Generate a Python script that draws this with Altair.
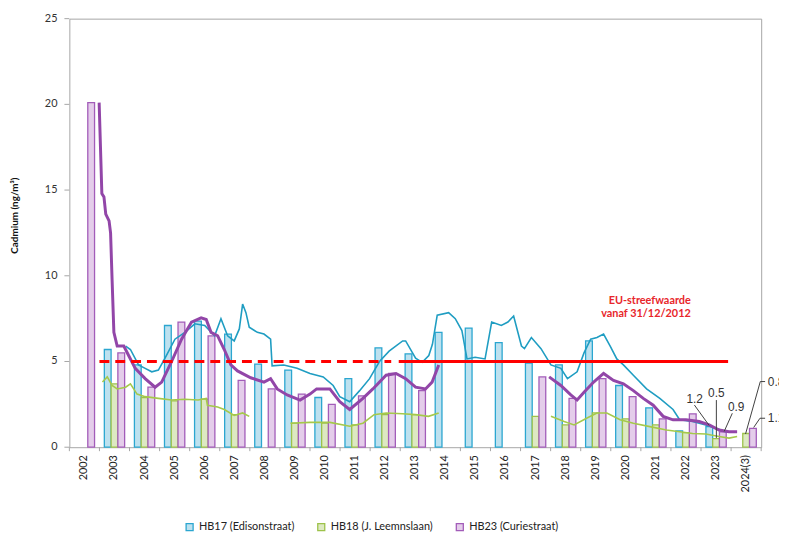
import altair as alt
import pandas as pd

years = ["2002", "2003", "2004", "2005", "2006", "2007", "2008", "2009", "2010", "2011",
         "2012", "2013", "2014", "2015", "2016", "2017", "2018", "2019", "2020", "2021",
         "2022", "2023", "2024(3)"]
series = ["HB17 (Edisonstraat)", "HB18 (J. Leemnslaan)", "HB23 (Curiestraat)"]
y_ticks = [0, 5, 10, 15, 20, 25]
y_title = "Cadmium  (ng/m³)"

# yearly averages (bars)
hb17_bars = [None, 5.7, 4.8, 7.1, 7.35, 6.6, 4.85, 4.5, 2.9, 4.0, 5.8, 5.45, 6.7, 6.95, 6.1,
             4.9, 4.8, 6.2, 3.6, 2.3, 0.95, 1.2, None]
hb18_bars = [None, 3.7, 2.9, 2.7, 2.8, 1.9, None, 1.4, 1.4, 1.3, 1.9, 1.9, None, None, None,
             1.8, 1.3, 2.0, 1.65, 1.3, 0.85, 0.5, 0.8]
hb23_bars = [20.1, 5.5, 3.5, 7.3, 6.5, 3.9, 3.4, 3.1, 2.5, 3.0, 4.3, 3.3, None, None, None,
             4.1, 2.85, 4.0, 2.95, 1.65, 1.95, 0.9, 1.1]

# running averages (lines); position in category units (0 = left edge of 2002)
hb17_pos = [1.87, 2.03, 2.30, 2.52, 2.74, 2.96, 3.18, 3.51, 3.84, 4.17, 4.50, 4.83, 5.04, 5.26,
            5.48, 5.65, 5.76, 5.87, 5.98, 6.25, 6.47, 6.69, 6.74, 7.13, 7.57, 8.00, 8.44, 8.77,
            8.99, 9.32, 9.65, 9.98, 10.31, 10.63, 11.08, 11.18, 11.51, 11.73, 11.95, 12.07,
            12.23, 12.61, 12.83, 13.05, 13.22, 13.49, 13.82, 14.04, 14.36, 14.58, 14.77, 15.03,
            15.13, 15.36, 15.68, 16.01, 16.34, 16.56, 16.88, 17.11, 17.33, 17.54, 17.76, 17.98,
            18.20, 18.42, 18.75, 19.19, 19.63, 20.07, 20.29, 20.72, 21.16, 21.49, 21.82, 22.15]
hb17_line = [5.9, 5.7, 4.8, 4.6, 4.4, 4.5, 5.2, 6.3, 6.7, 7.2, 7.1, 6.5, 7.5, 6.5, 6.2, 6.9,
             8.35, 7.85, 7.0, 6.7, 6.6, 6.3, 4.75, 4.8, 4.6, 4.3, 4.1, 3.6, 2.95, 2.65, 3.3,
             4.0, 5.0, 5.6, 6.2, 6.2, 5.2, 4.95, 5.35, 6.0, 7.7, 7.85, 7.5, 6.8, 5.15, 5.25,
             5.15, 7.3, 7.1, 7.3, 7.65, 5.9, 5.75, 6.4, 5.75, 4.8, 4.6, 4.0, 4.4, 5.5, 6.3,
             6.4, 6.6, 5.9, 5.15, 4.8, 4.2, 3.4, 2.85, 2.2, 1.6, 1.5, 1.3, 1.1, 0.9, 0.88]

hb18_pos = [[1.10, 1.26, 1.42, 1.59, 1.87, 2.03, 2.25, 2.52, 2.96, 3.40, 3.84, 4.28, 4.55, 4.59,
             4.93, 5.15, 5.48, 5.76, 5.98],
            [7.35, 8.00, 8.66, 9.32, 9.76, 10.13, 10.53, 11.08, 11.51, 11.94, 12.28],
            [16.01, 16.45, 16.78, 17.21, 17.54, 17.87, 18.31, 18.75, 19.30, 19.85, 20.29,
             20.72, 21.16, 21.60, 21.93, 22.20]]
hb18_line = [[3.8, 4.1, 3.6, 3.4, 3.5, 3.7, 3.1, 2.95, 2.85, 2.75, 2.8, 2.75, 2.85, 2.45, 2.35,
              2.2, 1.85, 2.0, 1.8],
             [1.4, 1.45, 1.45, 1.22, 1.4, 1.9, 2.0, 1.95, 1.9, 1.8, 2.0],
             [1.8, 1.5, 1.3, 1.7, 2.0, 2.0, 1.6, 1.4, 1.2, 1.0, 0.9, 0.8, 0.77, 0.63, 0.53, 0.63]]

hb23_pos = [[0.99, 1.08, 1.15, 1.21, 1.32, 1.37, 1.42, 1.48, 1.59, 1.81, 1.97, 2.19, 2.52, 2.85,
             3.07, 3.40, 3.73, 4.06, 4.38, 4.55, 4.71, 4.93, 5.15, 5.37, 5.59, 6.03, 6.47,
             6.69, 6.91, 7.24, 7.67, 8.00, 8.22, 8.66, 8.99, 9.32, 9.76, 10.09, 10.53, 10.86,
             11.18, 11.51, 11.84, 12.06, 12.28],
            [15.95, 16.34, 16.67, 16.88, 17.11, 17.43, 17.76, 18.09, 18.42, 18.75, 19.08,
             19.41, 19.74, 20.07, 20.50, 20.94, 21.27, 21.60, 21.93, 22.20]]
hb23_line = [[20.1, 14.8, 14.6, 13.6, 13.2, 12.5, 9.8, 6.7, 5.9, 5.9, 5.35, 4.6, 4.0, 3.5, 3.8,
              5.0, 6.3, 7.3, 7.55, 7.45, 6.7, 6.5, 5.7, 4.8, 4.45, 4.05, 3.8, 4.0, 3.4, 3.05,
              2.75, 3.1, 3.4, 3.4, 2.65, 2.2, 2.85, 3.4, 4.2, 4.3, 4.0, 3.5, 3.4, 3.8, 4.8],
             [4.1, 3.6, 3.05, 2.75, 3.2, 3.8, 4.3, 3.9, 3.7, 3.3, 2.85, 2.45, 1.8, 1.6, 1.6,
              1.5, 1.3, 1.0, 0.9, 0.9]]

# EU target value line
eu_value = 5
eu_dashed = [1.0, 10.7]
eu_solid = [10.95, 21.9]
eu_text = ["EU-streefwaarde", "vanaf 31/12/2012"]
eu_text_pos = [20.66, 20.66]
eu_text_val = [8.5, 7.75]

# annotations
ann_mid_text = ["1.2", "0.5", "0.9"]
ann_mid_pos = [20.79, 21.51, 22.17]
ann_mid_val = [2.79, 3.14, 2.33]
ann_right_text = ["0.8", "1.1"]
ann_right_pos = [23.22, 23.22]
ann_right_val = [3.83, 1.69]
lead_u1 = [20.78, 21.51, 22.04, 23.13, 22.97, 23.13, 22.96]
lead_u2 = [21.27, 21.51, 21.77, 22.97, 22.48, 22.96, 22.75]
lead_v1 = [2.46, 2.75, 1.98, 3.83, 3.83, 1.69, 1.69]
lead_v2 = [1.27, 0.54, 0.92, 3.83, 0.77, 1.69, 1.15]

fills = ["#bde1ef", "#dde9c2", "#e4cdea"]
strokes = ["#2ba6d0", "#9dc24a", "#a25cb9"]

# ---------- data frames ----------
rows = []
for k, (s, vals) in enumerate(zip(series, [hb17_bars, hb18_bars, hb23_bars])):
    for i, (y, v) in enumerate(zip(years, vals)):
        if v is not None:
            rows.append({"year": y, "yi": i, "k": k, "series": s, "value": v})
bars_df = pd.DataFrame(rows)
years_df = pd.DataFrame({"year": years, "yi": list(range(len(years)))})
bounds_df = pd.DataFrame({"b": list(range(len(years) + 1))})
yticks_df = pd.DataFrame({"t": y_ticks, "lab": [str(t) for t in y_ticks]})


def line_df(pos_list, val_list):
    out = []
    for seg, (ps, vs) in enumerate(zip(pos_list, val_list)):
        for i, (p, v) in enumerate(zip(ps, vs)):
            out.append({"u": p, "v": v, "seg": seg, "idx": i})
    return pd.DataFrame(out)


hb17_df = line_df([hb17_pos], [hb17_line])
hb18_df = line_df(hb18_pos, hb18_line)
hb23_df = line_df(hb23_pos, hb23_line)

W, H = 699, 433
yscale = alt.Scale(domain=[0, 25], nice=False, zero=True, padding=0)
uscale = alt.Scale(domain=[0, len(years)], nice=False, zero=False, padding=0)
GRAY = "#a6a6a6"
BAR_STEP = 0.225  # bar width as a fraction of one year slot


def X(field):
    return alt.X(field, scale=uscale, axis=None)


def Y(field):
    return alt.Y(field, scale=yscale, axis=None)


legend = alt.Legend(title=None, orient="none", direction="horizontal", legendX=116, legendY=508,
                    symbolType="square", symbolSize=50, symbolStrokeWidth=1.3,
                    labelFont="Lato", labelFontSize=11, labelColor="#222",
                    columnPadding=20, labelOffset=4)

bars = alt.Chart(bars_df).transform_calculate(
    x0=f"datum.yi + 0.5 + (datum.k - 1.5) * {BAR_STEP}",
    x1=f"datum.yi + 0.5 + (datum.k - 0.5) * {BAR_STEP}",
).mark_bar(strokeWidth=1.3, orient="vertical").encode(
    x=X("x0:Q"), x2="x1:Q",
    y=Y("value:Q"), y2=alt.datum(0),
    fill=alt.Fill("series:N", scale=alt.Scale(domain=series, range=fills), legend=legend),
    stroke=alt.Stroke("series:N", scale=alt.Scale(domain=series, range=strokes), legend=legend),
)

# ----- axes drawn as marks -----
x_ticks = alt.Chart(bounds_df).mark_rule(color=GRAY, strokeWidth=1).encode(
    x=X("b:Q"), y=alt.value(H), y2=alt.value(H + 4))
x_labels = alt.Chart(years_df).transform_calculate(c="datum.yi + 0.5").mark_text(
    angle=270, align="right", baseline="middle", font="Lato", fontSize=11, color="#222").encode(
    x=X("c:Q"), y=alt.value(H + 8), text="year:N")
y_tick_marks = alt.Chart(yticks_df).mark_rule(color=GRAY, strokeWidth=1).encode(
    y=Y("t:Q"), x=alt.value(-5), x2=alt.value(0))
y_labels = alt.Chart(yticks_df).mark_text(
    align="right", baseline="middle", font="Lato", fontSize=11, color="#333").encode(
    y=Y("t:Q"), x=alt.value(-12), text="lab:N")
y_title_mark = alt.Chart(pd.DataFrame({"t": [y_title]})).mark_text(
    angle=270, align="center", baseline="middle", font="Lato", fontSize=10,
    fontWeight="bold", color="#111").encode(
    x=alt.value(-55), y=alt.value(199), text="t:N")


def line_layer(df, color, width):
    return alt.Chart(df).mark_line(strokeWidth=width, color=color).encode(
        x=X("u:Q"), y=Y("v:Q"), detail="seg:N", order="idx:Q")


green_line = line_layer(hb18_df, "#a5c94a", 1.6)
teal_line = line_layer(hb17_df, "#1f9dc2", 1.6)
purple_line = line_layer(hb23_df, "#9246a8", 3)

red_dashed = alt.Chart(pd.DataFrame({"a": [eu_dashed[0]], "b": [eu_dashed[1]], "v": [eu_value]})).mark_rule(
    color="#ff0000", strokeWidth=3, strokeDash=[10, 6]).encode(
    x=X("a:Q"), x2="b:Q", y=Y("v:Q"))
red_solid = alt.Chart(pd.DataFrame({"a": [eu_solid[0]], "b": [eu_solid[1]], "v": [eu_value]})).mark_rule(
    color="#ff0000", strokeWidth=3).encode(
    x=X("a:Q"), x2="b:Q", y=Y("v:Q"))

red_text = alt.Chart(pd.DataFrame({"u": eu_text_pos, "v": eu_text_val, "t": eu_text})).mark_text(
    align="right", baseline="middle", font="Lato", fontWeight="bold", fontSize=11,
    color="#e8262b").encode(x=X("u:Q"), y=Y("v:Q"), text="t:N")

leaders = alt.Chart(pd.DataFrame({"u1": lead_u1, "u2": lead_u2, "v1": lead_v1, "v2": lead_v2})).mark_rule(
    color="#404040", strokeWidth=1).encode(
    x=X("u1:Q"), x2="u2:Q", y=Y("v1:Q"), y2="v2:Q")

ann_mid = alt.Chart(pd.DataFrame({"u": ann_mid_pos, "v": ann_mid_val, "t": ann_mid_text})).mark_text(
    align="center", baseline="middle", font="Liberation Sans", fontSize=12, color="#333").encode(
    x=X("u:Q"), y=Y("v:Q"), text="t:N")
ann_right = alt.Chart(pd.DataFrame({"u": ann_right_pos, "v": ann_right_val, "t": ann_right_text})).mark_text(
    align="left", baseline="middle", font="Liberation Sans", fontSize=12, color="#333").encode(
    x=X("u:Q"), y=Y("v:Q"), text="t:N")

chart = alt.layer(bars, x_ticks, x_labels, y_tick_marks, y_labels, y_title_mark,
                  green_line, teal_line, purple_line, red_dashed, red_solid,
                  red_text, leaders, ann_mid, ann_right).properties(
    width=W, height=H,
    padding={"left": 62, "top": 8, "right": 18, "bottom": 92},
    autosize=alt.AutoSizeParams(type="none"),
    background="white",
).configure_view(stroke=GRAY, strokeWidth=1)

chart.save("out.html", embed_options={"renderer": "svg", "actions": False})
